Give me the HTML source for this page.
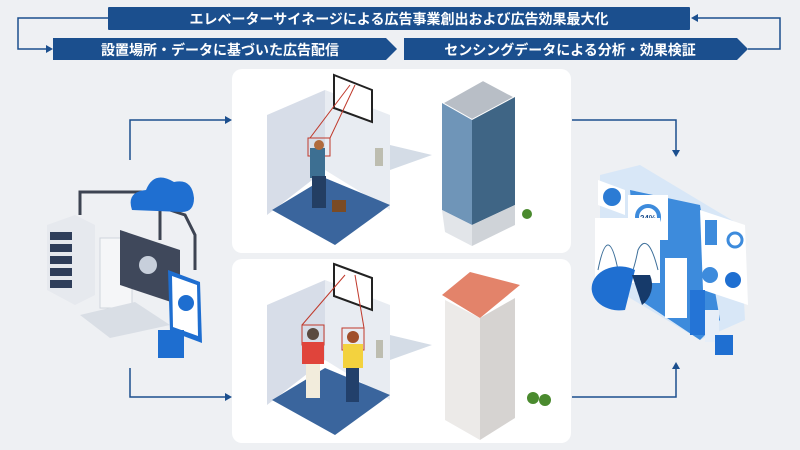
<!DOCTYPE html>
<html><head><meta charset="utf-8"><style>
html,body{margin:0;padding:0;background:#eef0f3;}
svg{display:block}
text{font-family:"Liberation Sans","Noto Sans CJK JP",sans-serif;font-weight:bold;fill:#fff}
</style></head><body>
<svg width="800" height="450" viewBox="0 0 800 450" xmlns="http://www.w3.org/2000/svg">
<rect width="800" height="450" fill="#eef0f3"/>
<rect x="108" y="7" width="582" height="23" fill="#1b4f8e" rx="1"/>
<text x="399" y="24" font-size="14" text-anchor="middle">エレベーターサイネージによる広告事業創出および広告効果最大化</text>
<polygon points="53,38 386,38 397,49 386,60 53,60" fill="#1b4f8e"/>
<text x="220" y="55" font-size="14" text-anchor="middle">設置場所・データに基づいた広告配信</text>
<polygon points="404,38 737,38 748,49 737,60 404,60" fill="#1b4f8e"/>
<text x="570" y="55" font-size="14" text-anchor="middle">センシングデータによる分析・効果検証</text>
<g stroke="#1b4f8e" stroke-width="1.5" fill="none">
<polyline points="108,18 18,18 18,49 48,49"/>
<polyline points="748,49 780,49 780,18 696,18"/>
<polyline points="130,160 130,120 226,120"/>
<polyline points="130,368 130,397 226,397"/>
<polyline points="572,120 676,120 676,152"/>
<polyline points="572,397 676,397 676,368"/>
</g>
<g fill="#1b4f8e">
<polygon points="53,49 46,45 46,53"/>
<polygon points="691,18 698,14 698,22"/>
<polygon points="232,120 225,116 225,124"/>
<polygon points="232,397 225,393 225,401"/>
<polygon points="676,157 672,150 680,150"/>
<polygon points="676,362 672,369 680,369"/>
</g>
<rect x="232" y="69" width="339" height="184" rx="10" fill="#fff"/>
<rect x="232" y="259" width="339" height="184" rx="10" fill="#fff"/>
<!-- top elevator -->
<g>
<polygon points="267,115 325,90 325,170 267,215" fill="#d7dde8"/>
<polygon points="325,90 390,115 390,210 325,170" fill="#e8ecf2"/>
<polygon points="272,210 325,178 390,205 335,245" fill="#3a659d"/>
<polygon points="334,75 372,90 372,122 334,108" fill="#fff" stroke="#222" stroke-width="2"/>
<g stroke="#c0392b" fill="none" stroke-width="1"><rect x="308" y="138" width="22" height="18"/><line x1="310" y1="138" x2="350" y2="85"/><line x1="330" y1="138" x2="355" y2="85"/></g>
<rect x="310" y="148" width="15" height="30" fill="#3d6f92"/>
<circle cx="319" cy="145" r="5" fill="#b06a3c"/>
<rect x="312" y="176" width="14" height="32" fill="#233e63"/>
<rect x="332" y="200" width="14" height="12" fill="#7a4b25"/>
<rect x="375" y="148" width="8" height="18" fill="#bdbdb0"/>
<polygon points="390,145 432,155 390,170" fill="#d4dce6"/>
<polygon points="442,103 483,80 515,97 472,120" fill="#b8bec6" stroke="#fff" stroke-width="2"/>
<polygon points="442,103 472,120 472,225 442,210" fill="#6f95b8"/>
<polygon points="472,120 515,97 515,205 472,225" fill="#3f6585"/>
<polygon points="442,210 472,225 472,246 445,232" fill="#e2e5e9"/>
<polygon points="472,225 515,205 515,225 472,246" fill="#cfd3d8"/>
<circle cx="527" cy="214" r="5" fill="#4a8a2e"/>
</g>
<!-- bottom elevator -->
<g>
<polygon points="267,305 325,280 325,360 267,405" fill="#d7dde8"/>
<polygon points="325,280 390,305 390,400 325,360" fill="#e8ecf2"/>
<polygon points="272,400 325,368 390,395 335,435" fill="#3a659d"/>
<polygon points="334,264 372,278 372,310 334,296" fill="#fff" stroke="#222" stroke-width="2"/>
<g stroke="#c0392b" fill="none" stroke-width="1"><rect x="302" y="325" width="22" height="20"/><rect x="342" y="328" width="22" height="22"/><line x1="302" y1="325" x2="345" y2="275"/><line x1="364" y1="328" x2="355" y2="275"/></g>
<rect x="302" y="342" width="22" height="22" fill="#e0443b"/>
<circle cx="313" cy="334" r="6" fill="#5a4a40"/>
<rect x="306" y="364" width="14" height="34" fill="#f2ecdc"/>
<rect x="343" y="344" width="20" height="24" fill="#f3d23e"/>
<circle cx="353" cy="337" r="6" fill="#a04f2a"/>
<rect x="346" y="368" width="13" height="34" fill="#22406b"/>
<rect x="376" y="340" width="7" height="18" fill="#bdbdb0"/>
<polygon points="390,335 432,345 390,360" fill="#d4dce6"/>
<polygon points="445,300 480,318 480,440 445,420" fill="#eceae8"/>
<polygon points="480,318 515,298 515,418 480,440" fill="#d6d3d1"/>
<polygon points="442,295 470,272 520,285 480,318" fill="#e3836a"/>
<circle cx="533" cy="398" r="6" fill="#4a8a2e"/><circle cx="545" cy="400" r="6" fill="#4a8a2e"/>
</g>
<!-- left computer -->
<g>
<g stroke="#3d4452" stroke-width="3" fill="none">
<polyline points="80,215 80,192 148,192 148,210"/>
<polyline points="160,210 160,240"/>
<polyline points="170,210 185,215 195,235 195,270"/>
</g>
<path d="M132 210 q-6-18 14-20 q8-20 28-8 q18-4 20 16 q0 14-12 14 z" fill="#1f6fd1"/>
<polygon points="47,225 75,215 95,225 95,295 75,305 47,290" fill="#e6e9ee"/>
<g fill="#2f3e5a"><rect x="50" y="232" width="22" height="8"/><rect x="50" y="244" width="22" height="8"/><rect x="50" y="256" width="22" height="8"/><rect x="50" y="268" width="22" height="8"/><rect x="50" y="280" width="22" height="8"/></g>
<rect x="100" y="238" width="32" height="70" fill="#f5f6f8" stroke="#d0d5dc"/>
<polygon points="120,230 180,250 180,305 120,285" fill="#3f485b"/>
<circle cx="148" cy="265" r="9" fill="#c7cfdb"/>
<polygon points="80,315 135,302 170,325 110,338" fill="#d9dee5"/>
<polygon points="168,270 200,282 202,343 170,331" fill="#1e6ed0"/>
<polygon points="172,276 197,285 198,336 173,327" fill="#fff"/>
<circle cx="186" cy="303" r="8" fill="#1e6ed0"/>
<rect x="158" y="330" width="26" height="28" fill="#1e6ed0"/>
</g>
<!-- right dashboard -->
<g>
<polygon points="600,175 640,165 740,225 745,320 700,340 600,280" fill="#d8e7f7"/>
<polygon points="630,190 700,205 720,320 700,340 640,300" fill="#3d8bdc"/>
<polygon points="598,180 625,190 625,215 598,205" fill="#fff"/>
<circle cx="612" cy="197" r="9" fill="#2b7bd4"/>
<rect x="628" y="195" width="40" height="45" fill="#fff"/>
<circle cx="648" cy="217" r="11" fill="#fff" stroke="#3d8bdc" stroke-width="4"/>
<text x="648" y="221" font-size="8" text-anchor="middle" style="fill:#1b4f8e">24%</text>
<rect x="595" y="218" width="65" height="65" fill="#fff"/>
<path d="M598 270 q10-50 20 0 q10 30 20-20 q10-20 20 20" stroke="#3d6f9a" fill="none"/>
<path d="M625 310 a28 22 0 1 1 10 -40 l-10 40 z" fill="#1f6fd1"/>
<path d="M632 275 l18 0 a25 25 0 0 1 -8 30 z" fill="#163a6a"/>
<polygon points="700,210 745,225 748,305 703,290" fill="#fff"/>
<rect x="705" y="220" width="12" height="25" fill="#3d8bdc"/>
<circle cx="735" cy="240" r="7" fill="none" stroke="#3d8bdc" stroke-width="3"/>
<circle cx="710" cy="275" r="8" fill="#3d8bdc"/><circle cx="733" cy="280" r="8" fill="#1f6fd1"/>
<rect x="665" y="258" width="22" height="60" fill="#fff"/>
<rect x="690" y="290" width="15" height="45" fill="#2474d6"/>
<rect x="705" y="310" width="14" height="32" fill="#e6eef8"/>
<rect x="715" y="335" width="18" height="20" fill="#1f6fd1"/>
</g>
</svg>
</body></html>
